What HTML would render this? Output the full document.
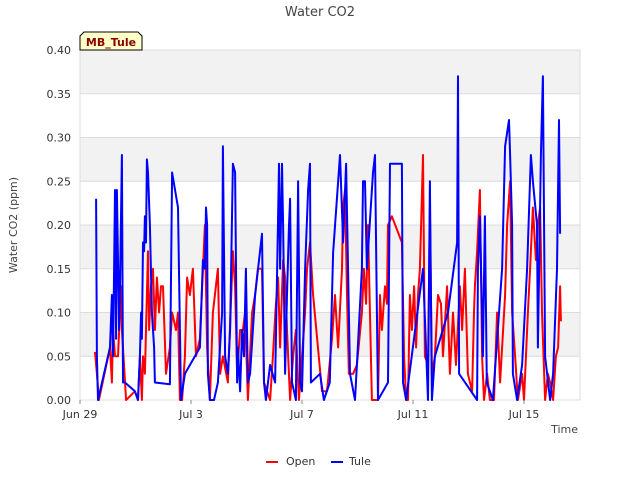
<!DOCTYPE html>
<html><head><meta charset="utf-8"><style>
body{margin:0;background:#fff;font-family:"Liberation Sans","DejaVu Sans",sans-serif}
svg text{font-family:"DejaVu Sans","Liberation Sans",sans-serif}
</style></head><body>
<svg id="chart" width="640" height="480" xmlns="http://www.w3.org/2000/svg">
<rect width="640" height="480" fill="#fff"/>
<text x="320" y="16" text-anchor="middle" font-size="13" fill="#444">Water CO2</text>
<g id="bands"></g><g id="grid"></g>
<g id="series"></g>
<g id="axes"></g>
<text transform="translate(17,225) rotate(-90)" text-anchor="middle" font-size="11" fill="#444">Water CO2 (ppm)</text>
<text x="578" y="433" text-anchor="end" font-size="11" fill="#444">Time</text>
<g>
<path d="M80,50 L80,36 L84,32 L138,32 L142,36 L142,50 Z" fill="#ffffc8" stroke="#000" stroke-width="1"/>
<text x="111" y="46" text-anchor="middle" font-size="11" font-weight="bold" fill="#8b0000">MB_Tule</text>
</g>
<g>
<g><line x1="266" y1="462" x2="278" y2="462" stroke="#f00" stroke-width="2"/><text x="286" y="465" font-size="11" fill="#333">Open</text></g>
<g><line x1="331" y1="462" x2="343" y2="462" stroke="#00f" stroke-width="2"/><text x="349" y="465" font-size="11" fill="#333">Tule</text></g>
</g>
</svg>
<script>
const yTicks=[0,0.05,0.10,0.15,0.20,0.25,0.30,0.35,0.40];
const xTickDays=[0,4,8,12,16];
const xTickLabels=["Jun 29","Jul 3","Jul 7","Jul 11","Jul 15"];
const openDays=[0.54,0.61,0.68,1.08,1.15,1.19,1.26,1.37,1.48,1.51,1.66,1.98,2.09,2.16,2.23,2.27,2.34,2.45,2.49,2.56,2.63,2.70,2.77,2.85,2.92,2.99,3.10,3.24,3.32,3.46,3.53,3.6,3.68,3.78,3.86,3.96,4.07,4.18,4.32,4.50,4.58,4.68,4.79,4.86,4.97,5.05,5.15,5.33,5.51,5.59,5.66,5.77,5.87,5.95,6.05,6.2,6.31,6.41,6.56,6.63,6.85,6.95,7.06,7.14,7.21,7.32,7.39,7.46,7.57,7.68,7.78,7.89,8.0,8.11,8.18,8.29,8.4,8.72,8.9,9.08,9.19,9.3,9.44,9.48,9.55,9.62,9.69,9.84,9.98,10.16,10.23,10.31,10.38,10.52,10.74,10.81,10.88,10.99,11.06,11.1,11.24,11.6,11.68,11.75,11.82,11.89,11.96,12.04,12.11,12.18,12.25,12.36,12.43,12.54,12.61,12.68,12.79,12.9,13.01,13.08,13.23,13.33,13.44,13.55,13.69,13.77,13.87,13.98,14.13,14.2,14.23,14.31,14.41,14.49,14.56,14.67,14.77,14.92,15.03,15.14,15.32,15.39,15.5,15.57,15.68,15.78,15.93,16.0,16.14,16.22,16.32,16.43,16.5,16.58,16.65,16.76,16.86,16.94,17.05,17.15,17.23,17.3,17.33];
const openVals=[0.055,0.03,0.0,0.06,0.02,0.08,0.05,0.05,0.13,0.08,0.0,0.01,0.0,0.05,0.0,0.05,0.03,0.17,0.08,0.13,0.15,0.08,0.14,0.1,0.13,0.13,0.03,0.06,0.1,0.08,0.1,0.0,0.0,0.05,0.14,0.12,0.15,0.05,0.07,0.2,0.06,0.0,0.1,0.12,0.15,0.03,0.05,0.02,0.17,0.13,0.03,0.08,0.08,0.1,0.0,0.1,0.12,0.15,0.15,0.02,0.0,0.05,0.11,0.14,0.06,0.16,0.14,0.08,0.0,0.05,0.08,0.0,0.05,0.1,0.15,0.18,0.12,0.01,0.01,0.07,0.12,0.06,0.15,0.22,0.24,0.12,0.03,0.03,0.04,0.1,0.15,0.11,0.2,0.0,0.0,0.12,0.08,0.13,0.11,0.2,0.21,0.18,0.05,0.0,0.0,0.12,0.08,0.13,0.06,0.12,0.15,0.28,0.05,0.04,0.22,0.03,0.05,0.12,0.11,0.05,0.13,0.03,0.1,0.04,0.13,0.08,0.15,0.03,0.01,0.1,0.13,0.17,0.24,0.05,0.0,0.03,0.0,0.0,0.1,0.02,0.12,0.2,0.25,0.1,0.05,0.0,0.03,0.0,0.1,0.15,0.22,0.16,0.2,0.22,0.1,0.0,0.03,0.02,0.0,0.05,0.06,0.13,0.09];
const tuleDays=[0.58,0.61,0.65,0.72,1.08,1.15,1.19,1.23,1.26,1.30,1.33,1.41,1.44,1.51,1.55,1.62,1.98,2.09,2.13,2.16,2.20,2.23,2.27,2.31,2.34,2.38,2.41,2.45,2.52,2.59,2.67,2.70,3.24,3.32,3.53,3.64,3.78,4.32,4.43,4.50,4.54,4.58,4.61,4.68,4.83,4.97,5.12,5.15,5.23,5.33,5.41,5.51,5.59,5.66,5.69,5.77,5.84,5.91,5.98,6.05,6.13,6.31,6.56,6.63,6.70,6.85,7.03,7.14,7.17,7.21,7.28,7.32,7.39,7.46,7.53,7.57,7.64,7.71,7.78,7.86,7.93,8.0,8.11,8.22,8.29,8.32,8.65,8.79,9.0,9.12,9.37,9.48,9.59,9.73,9.91,9.98,10.16,10.2,10.27,10.34,10.56,10.63,10.70,10.74,11.1,11.17,11.6,11.64,11.75,12.36,12.54,12.61,12.68,12.79,13.26,13.59,13.62,13.66,14.31,14.34,14.41,14.52,14.59,14.66,14.88,15.21,15.32,15.46,15.5,15.57,15.6,15.75,15.93,16.11,16.25,16.32,16.47,16.5,16.61,16.68,16.76,16.94,17.05,17.19,17.26,17.3];
const tuleVals=[0.23,0.05,0.0,0.01,0.06,0.12,0.05,0.15,0.24,0.07,0.24,0.08,0.13,0.28,0.02,0.02,0.01,0.0,0.03,0.05,0.1,0.07,0.18,0.17,0.21,0.18,0.275,0.26,0.2,0.1,0.06,0.02,0.018,0.26,0.22,0.0,0.03,0.06,0.16,0.15,0.22,0.2,0.03,0.0,0.0,0.02,0.1,0.29,0.05,0.03,0.08,0.27,0.26,0.02,0.06,0.01,0.08,0.05,0.15,0.02,0.03,0.12,0.19,0.02,0.0,0.04,0.02,0.21,0.27,0.15,0.27,0.2,0.03,0.12,0.2,0.23,0.02,0.01,0.0,0.25,0.02,0.01,0.15,0.24,0.27,0.02,0.03,0.0,0.02,0.168,0.28,0.18,0.27,0.03,0.0,0.04,0.15,0.25,0.25,0.15,0.26,0.28,0.1,0.0,0.02,0.27,0.27,0.02,0.0,0.15,0.0,0.25,0.0,0.05,0.1,0.18,0.37,0.03,0.0,0.15,0.21,0.05,0.21,0.02,0.0,0.15,0.29,0.32,0.28,0.2,0.03,0.0,0.04,0.15,0.28,0.25,0.2,0.06,0.28,0.37,0.05,0.0,0.03,0.15,0.32,0.19];

const NS="http://www.w3.org/2000/svg";
const L=80,R=580,T=50,B=400,YMAX=0.4,X0=80,PXDAY=27.75;
const xs=d=>X0+d*PXDAY;
const ys=v=>B-(v/YMAX)*(B-T);
function mk(tag,attrs,parent){const e=document.createElementNS(NS,tag);for(const k in attrs)e.setAttribute(k,attrs[k]);parent.appendChild(e);return e;}
const bands=document.getElementById('bands'),grid=document.getElementById('grid'),axes=document.getElementById('axes'),series=document.getElementById('series');
for(let i=0;i<yTicks.length-1;i++){
  const r=mk('rect',{x:L,y:ys(yTicks[i+1]),width:R-L,height:ys(yTicks[i])-ys(yTicks[i+1]),fill:(i%2===1)?'#f2f2f2':'#ffffff'},bands);
  
  
}
yTicks.forEach(v=>{
  const g=mk('line',{x1:L,x2:R,y1:ys(v),y2:ys(v),stroke:'#dcdcdc','stroke-width':1},grid);
  
  
  const t=mk('text',{x:L-9,y:ys(v)+4,'text-anchor':'end','font-size':11,fill:'#333'},axes);
  
  
  t.textContent=v.toFixed(2);
});
mk('line',{x1:L,x2:L,y1:T,y2:B,stroke:'#dcdcdc'},grid);
mk('line',{x1:R,x2:R,y1:T,y2:B,stroke:'#dcdcdc'},grid);
xTickDays.forEach((d,i)=>{
  const tk=mk('line',{x1:xs(d),x2:xs(d),y1:B,y2:B+4,stroke:'#888'},axes);
  
  
  const t=mk('text',{x:xs(d),y:B+18,'text-anchor':'middle','font-size':11,fill:'#333'},axes);
  
  
  t.textContent=xTickLabels[i];
});
function line(days,vals,color,name){
  const p=days.map((d,i)=>xs(d).toFixed(1)+','+ys(vals[i]).toFixed(1)).join(' ');
  const pl=mk('polyline',{points:p,fill:'none',stroke:color,'stroke-width':2,'stroke-linejoin':'round'},series);
  
  
}
line(openDays,openVals,'#ff0000','open-series-line');
line(tuleDays,tuleVals,'#0000ff','tule-series-line');
</script>
</body></html>
